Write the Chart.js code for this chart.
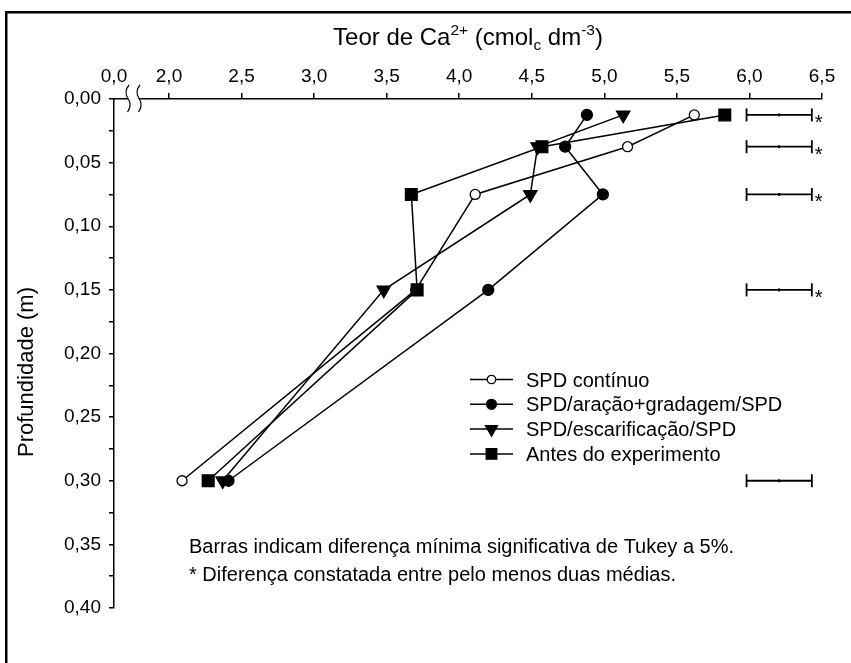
<!DOCTYPE html>
<html lang="pt-BR">
<head>
<meta charset="utf-8">
<title>Teor de Ca2+ no perfil do solo</title>
<script src="https://cdn.jsdelivr.net/npm/chart.js@4.4.1/dist/chart.umd.min.js"></script>
<style>
  html, body { margin: 0; padding: 0; background: #fff; }
  canvas { display: block; }
</style>
</head>
<body>
<canvas id="caChart" width="851" height="663"></canvas>
<script>
// --- DADOS ---
const profundidades = [0.0125, 0.0375, 0.075, 0.15, 0.30];

const nomesTratamentos = [
  "SPD contínuo",
  "SPD/aração+gradagem/SPD",
  "SPD/escarificação/SPD",
  "Antes do experimento"
];

// teor de Ca2+ (cmolc dm-3) em cada profundidade
const caSpdContinuo     = [5.62, 5.16, 4.11, 3.70, 2.09];
const caAracaoGradagem  = [4.88, 4.73, 4.99, 4.20, 2.41];
const caEscarificacao   = [5.13, 4.54, 4.49, 3.48, 2.37];
const caAntes           = [5.83, 4.57, 3.67, 3.71, 2.27];

// DMS de Tukey (5%) por profundidade
const dmsInicio = 5.98;
const dmsTukey = [0.45, 0.45, 0.45, 0.45, 0.45];
const dmsSignificativo = [true, true, true, true, false];

// eixo x: 0,0 fica antes da quebra
const ticksTeor = [2.0, 2.5, 3.0, 3.5, 4.0, 4.5, 5.0, 5.5, 6.0, 6.5];
const inicioEixoX = 1.621;

const notas = [
  "Barras indicam diferença mínima significativa de Tukey a 5%.",
  "* Diferença constatada entre pelo menos duas médias."
];

const FONTE = '"Liberation Sans", Arial, Helvetica, sans-serif';

// --- ESTILOS DAS SÉRIES ---
const estilos = [
  { pointStyle: "circle",   rotation: 0,   radius: 5,   fill: "#fff", legRadius: 4.2, order: 3 },
  { pointStyle: "circle",   rotation: 0,   radius: 5.5, fill: "#000", legRadius: 5,   order: 2 },
  { pointStyle: "triangle", rotation: 180, radius: 7.7, fill: "#000", legRadius: 7,   order: 1 },
  { pointStyle: "rect",     rotation: 0,   radius: 8.3, fill: "#000", legRadius: 7.5, order: 0 }
];

function pontos(valores) {
  return valores.map((v, i) => ({ x: v, y: profundidades[i] }));
}

const series = [caSpdContinuo, caAracaoGradagem, caEscarificacao, caAntes];

const datasets = series.map((valores, i) => ({
  label: nomesTratamentos[i],
  data: pontos(valores),
  order: estilos[i].order,
  borderColor: "#000",
  borderWidth: 1.5,
  pointStyle: estilos[i].pointStyle,
  rotation: estilos[i].rotation,
  pointRadius: estilos[i].radius,
  pointBackgroundColor: estilos[i].fill,
  pointBorderColor: "#000",
  pointBorderWidth: 1.3,
  tension: 0
}));

// barras de DMS
profundidades.forEach((p, i) => {
  datasets.push({
    label: "",
    data: [
      { x: dmsInicio, y: p },
      { x: dmsInicio + dmsTukey[i] / 2, y: p },
      { x: dmsInicio + dmsTukey[i], y: p }
    ],
    order: 5,
    borderColor: "#000",
    borderWidth: 1.8,
    pointStyle: "line",
    rotation: 90,
    pointRadius: [6.5, 1.5, 6.5],
    pointBorderColor: "#000",
    pointBorderWidth: 1.8
  });
});

// --- TEXTO COM SOBRESCRITO/SUBSCRITO ---
function textoComposto(ctx, partes, cx, base) {
  let total = 0;
  partes.forEach(p => {
    ctx.font = p.size + "px " + FONTE;
    p.w = ctx.measureText(p.t).width;
    total += p.w;
  });
  let x = cx - total / 2;
  ctx.textAlign = "left";
  ctx.textBaseline = "alphabetic";
  partes.forEach(p => {
    ctx.font = p.size + "px " + FONTE;
    ctx.fillText(p.t, x, base + (p.dy || 0));
    x += p.w;
  });
}

// --- PLUGIN: moldura, quebra, títulos, legenda, notas ---
const extras = {
  id: "extras",
  afterDraw(chart) {
    const { ctx, chartArea: area, scales } = chart;
    const sx = scales.x, sy = scales.y;
    ctx.save();

    // moldura (topo e esquerda)
    ctx.fillStyle = "#000";
    ctx.fillRect(5, 11, 846, 2.5);
    ctx.fillRect(5, 11, 2.5, 652);

    // quebra do eixo x
    const q1 = area.left + 14, q2 = area.left + 25;
    ctx.fillStyle = "#fff";
    ctx.fillRect(q1, area.top - 2.5, q2 - q1, 5);
    ctx.strokeStyle = "#000";
    ctx.lineWidth = 1.2;
    [q1, q2].forEach(cx => {
      ctx.beginPath();
      ctx.moveTo(cx + 1, area.top - 14);
      ctx.quadraticCurveTo(cx - 4.5, area.top - 7.5, cx, area.top - 0.5);
      ctx.quadraticCurveTo(cx + 4.5, area.top + 6, cx - 0.5, area.top + 13);
      ctx.stroke();
    });

    // título do eixo x
    ctx.fillStyle = "#000";
    textoComposto(ctx, [
      { t: "Teor de Ca", size: 24 },
      { t: "2+", size: 15.5, dy: -10 },
      { t: " (cmol", size: 24 },
      { t: "c", size: 15.5, dy: 5 },
      { t: " dm", size: 24 },
      { t: "-3", size: 15.5, dy: -10 },
      { t: ")", size: 24 }
    ], (area.left + area.right) / 2, 45);

    // título do eixo y
    ctx.save();
    ctx.translate(27, area.top + 273);
    ctx.rotate(-Math.PI / 2);
    ctx.font = "22px " + FONTE;
    ctx.textAlign = "center";
    ctx.textBaseline = "middle";
    ctx.fillText("Profundidade (m)", 0, 0);
    ctx.restore();

    // asteriscos das barras de DMS
    ctx.font = "20px " + FONTE;
    ctx.textAlign = "left";
    ctx.textBaseline = "alphabetic";
    profundidades.forEach((p, i) => {
      if (!dmsSignificativo[i]) return;
      const px = sx.getPixelForValue(dmsInicio + dmsTukey[i]);
      const py = sy.getPixelForValue(p);
      ctx.fillText("*", px + 3, py + 14);
    });

    // legenda
    const lx0 = 470, lx1 = 513, ly0 = area.top + 280.5, passo = 24.8;
    nomesTratamentos.forEach((nome, i) => {
      const ly = ly0 + i * passo;
      ctx.strokeStyle = "#000";
      ctx.lineWidth = 1.5;
      ctx.beginPath();
      ctx.moveTo(lx0, ly);
      ctx.lineTo(lx1, ly);
      ctx.stroke();
      ctx.fillStyle = estilos[i].fill;
      ctx.lineWidth = 1.3;
      Chart.helpers.drawPoint(ctx, {
        pointStyle: estilos[i].pointStyle,
        rotation: estilos[i].rotation,
        radius: estilos[i].legRadius,
        borderWidth: 1.3
      }, (lx0 + lx1) / 2, ly);
      ctx.fillStyle = "#000";
      ctx.font = "20px " + FONTE;
      ctx.textAlign = "left";
      ctx.textBaseline = "alphabetic";
      ctx.fillText(nome, 526, ly + 7);
    });

    // notas
    ctx.font = "20px " + FONTE;
    notas.forEach((n, i) => {
      ctx.fillText(n, area.left + 75, area.top + 454 + i * 28);
    });

    ctx.restore();
  }
};

// --- GRÁFICO ---
const ctx = document.getElementById("caChart").getContext("2d");

const caChart = new Chart(ctx, {
  type: "line",
  data: { datasets },
  options: {
    responsive: false,
    animation: false,
    events: [],
    layout: { padding: { left: 0, top: 0, right: 29, bottom: 55 } },
    plugins: {
      legend: { display: false },
      tooltip: { enabled: false },
      title: { display: false }
    },
    scales: {
      x: {
        type: "linear",
        position: "top",
        min: inicioEixoX,
        max: 6.5,
        afterBuildTicks: scale => {
          scale.ticks = [inicioEixoX, ...ticksTeor].map(v => ({ value: v }));
        },
        afterFit: scale => { scale.height = 99; },
        ticks: {
          autoSkip: false,
          maxRotation: 0,
          padding: 5,
          color: "#000",
          font: { family: FONTE, size: 19 },
          callback: v => v === inicioEixoX ? "0,0" : v.toFixed(1).replace(".", ",")
        },
        grid: {
          drawOnChartArea: false,
          drawTicks: true,
          tickLength: 6,
          lineWidth: 1.5,
          tickColor: c => (c.tick && c.tick.value === inicioEixoX) ? "rgba(0,0,0,0)" : "#000"
        },
        border: { display: true, color: "#000", width: 1.5 }
      },
      y: {
        type: "linear",
        position: "left",
        reverse: true,
        min: 0,
        max: 0.40,
        afterFit: scale => { scale.width = 114; },
        ticks: {
          stepSize: 0.025,
          autoSkip: false,
          padding: 8,
          color: "#000",
          font: { family: FONTE, size: 19 },
          callback: v => Math.round(v * 1000) % 50 === 0 ? v.toFixed(2).replace(".", ",") : ""
        },
        grid: {
          drawOnChartArea: false,
          drawTicks: true,
          tickLength: 5,
          lineWidth: 1.5,
          color: "#000"
        },
        border: { display: true, color: "#000", width: 1.5 }
      }
    }
  },
  plugins: [extras]
});
</script>
</body>
</html>
